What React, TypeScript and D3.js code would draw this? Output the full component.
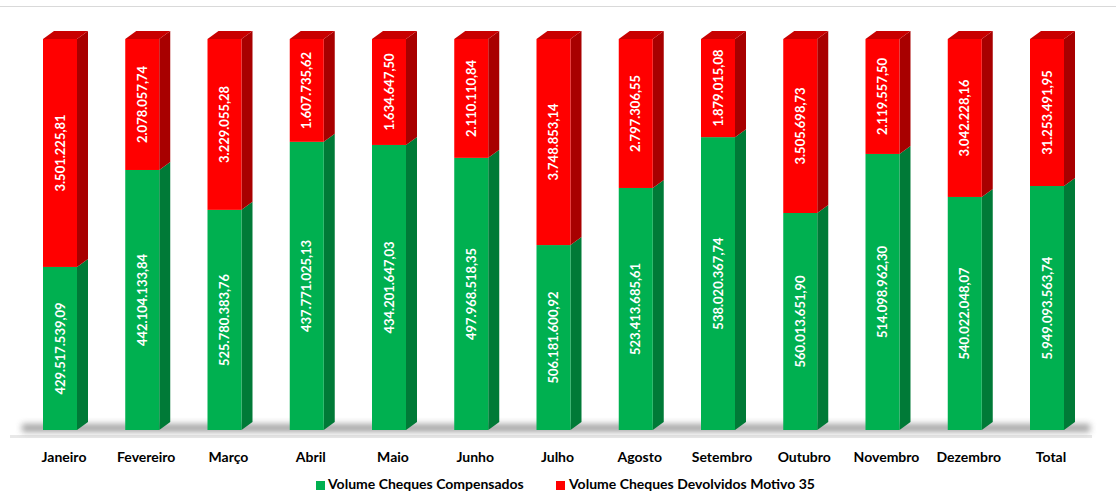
import * as React from 'react';
import * as d3 from 'd3';

const months = ['Janeiro', 'Fevereiro', 'Março', 'Abril', 'Maio', 'Junho', 'Julho', 'Agosto', 'Setembro', 'Outubro', 'Novembro', 'Dezembro', 'Total'];

// share of each bar (%)
const shareCompensados = [41.7, 66.5, 56.3, 73.7, 72.9, 69.6, 47.3, 61.9, 74.9, 55.5, 70.6, 59.6, 62.4];
const shareDevolvidos = [58.3, 33.5, 43.7, 26.3, 27.1, 30.4, 52.7, 38.1, 25.1, 44.5, 29.4, 40.4, 37.6];

// data labels as printed on the bars
const labelCompensados = ['429.517.539,09', '442.104.133,84', '525.780.383,76', '437.771.025,13', '434.201.647,03', '497.968.518,35', '506.181.600,92', '523.413.685,61', '538.020.367,74', '560.013.651,90', '514.098.962,30', '540.022.048,07', '5.949.093.563,74'];
const labelDevolvidos = ['3.501.225,81', '2.078.057,74', '3.229.055,28', '1.607.735,62', '1.634.647,50', '2.110.110,84', '3.748.853,14', '2.797.306,55', '1.879.015,08', '3.505.698,73', '2.119.557,50', '3.042.228,16', '31.253.491,95'];

const seriesNames = ['Volume Cheques Compensados', 'Volume Cheques Devolvidos Motivo 35'];

const W = 1116;
const H = 492;
const DX = 11; // 3d depth
const DY = 8;
const FONT = 'Lato, "Noto Sans", sans-serif';

const colors = {
  green: { front: '#00b050', side: '#007a37', top: '#009a45' },
  red: { front: '#ff0000', side: '#a80000', top: '#c80000' },
};

export default function App() {
  const step = 82.25;
  const bw = 34;
  const p = 1 - bw / step;
  const x = d3.scaleBand<string>()
    .domain(months)
    .range([43 - (step * p) / 2, 43 - (step * p) / 2 + step * months.length])
    .paddingInner(p)
    .paddingOuter(p / 2);
  const y = d3.scaleLinear().domain([0, 100]).range([430, 39]);

  const box = (x0: number, y0: number, y1: number, c: { front: string; side: string; top: string }, key: string, withTop: boolean) => {
    const w = x.bandwidth();
    const side = `M${x0 + w},${y1} L${x0 + w + DX},${y1 - DY} L${x0 + w + DX},${y0 - DY} L${x0 + w},${y0} Z`;
    const top = `M${x0},${y1} L${x0 + DX},${y1 - DY} L${x0 + w + DX},${y1 - DY} L${x0 + w},${y1} Z`;
    return (
      <g key={key}>
        <path d={side} fill={c.side} />
        {withTop && <path d={top} fill={c.top} />}
        <rect x={x0} y={y1} width={w} height={y0 - y1} fill={c.front} />
      </g>
    );
  };

  return (
    <div style={{ position: 'fixed', left: 0, top: 0, width: W, height: H, background: '#fff' }}>
      <svg width={W} height={H} style={{ display: 'block' }}>
        <defs>
          <filter id="blur" x="-10%" y="-200%" width="120%" height="500%">
            <feGaussianBlur stdDeviation="3" />
          </filter>
        </defs>
        <line x1={0} x2={W} y1={6.5} y2={6.5} stroke="#d9d9d9" strokeWidth={1} />

        {/* floor */}
        <rect x={10} y={435} width={1082} height={3} fill="#e8e8e8" />
        <rect x={22} y={424} width={1068} height={8} fill="#666" opacity={0.6} filter="url(#blur)" />

        {months.map((m, i) => {
          const x0 = x(m)!;
          const yg = y(shareCompensados[i]);
          const yr = y(shareCompensados[i] + shareDevolvidos[i]);
          return (
            <g key={m}>
              {box(x0, y(0), yg, colors.green, 'g', false)}
              {box(x0, yg, yr, colors.red, 'r', true)}
            </g>
          );
        })}

        {months.map((m, i) => {
          const cx = x(m)! + x.bandwidth() / 2;
          const gMid = (y(0) + y(shareCompensados[i])) / 2;
          const rMid = (y(shareCompensados[i]) + y(shareCompensados[i] + shareDevolvidos[i])) / 2;
          return (
            <g key={'l' + m} fill="#fff" fontFamily={FONT} fontWeight={700} fontSize={13} textAnchor="middle">
              <text transform={`translate(${cx + 4.5},${gMid}) rotate(-90)`}>{labelCompensados[i]}</text>
              <text transform={`translate(${cx + 4.5},${rMid}) rotate(-90)`}>{labelDevolvidos[i]}</text>
            </g>
          );
        })}

        {months.map(m => (
          <text key={'c' + m} x={x(m)! + x.bandwidth() / 2 + 4} y={462} textAnchor="middle"
            fontFamily={FONT} fontWeight={700} fontSize={14} fill="#000">{m}</text>
        ))}

        <g fontFamily={FONT} fontWeight={700} fontSize={14} fill="#000">
          <rect x={316} y={481} width={9} height={9} fill={colors.green.front} />
          <text x={328} y={488.5}>{seriesNames[0]}</text>
          <rect x={556} y={481} width={9} height={9} fill={colors.red.front} />
          <text x={569} y={488.5}>{seriesNames[1]}</text>
        </g>
      </svg>
    </div>
  );
}
